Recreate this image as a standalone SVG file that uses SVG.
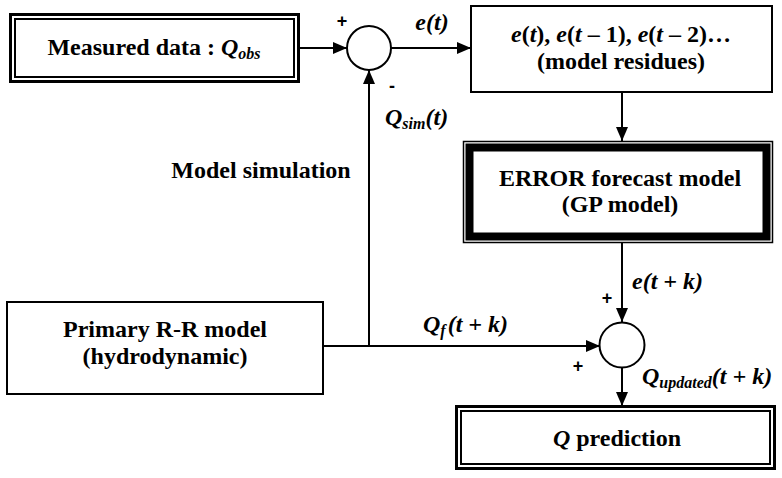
<svg xmlns="http://www.w3.org/2000/svg" width="782" height="478" viewBox="0 0 782 478" font-family="'Liberation Serif','Times New Roman','DejaVu Serif',serif">
<style>
text{font-family:"Liberation Serif","Times New Roman","DejaVu Serif",serif;font-weight:bold;fill:#000;font-size:24px}
.c{text-anchor:middle}
.i{font-style:italic}
.box{fill:#fff;stroke:#000;stroke-width:2}
.ar{fill:none;stroke:#000;stroke-width:2;marker-end:url(#ah)}
.sub{font-size:16px}
.pm{font-family:"Liberation Sans",Arial,sans-serif;font-size:18px}
</style>
<defs>
<marker id="ah" markerUnits="userSpaceOnUse" markerWidth="14" markerHeight="12" refX="14" refY="6" orient="auto">
<path d="M0,0 L14,6 L0,12 Z" fill="#000"/>
</marker>
</defs>
<rect width="782" height="478" fill="#fff"/>
<g id="connectors">
<line class="ar" x1="300" y1="48" x2="347" y2="48"/>
<line class="ar" x1="391" y1="48" x2="471" y2="48"/>
<line class="ar" x1="369" y1="346" x2="369" y2="70"/>
<line class="ar" x1="622" y1="92" x2="622" y2="141"/>
<line class="ar" x1="622" y1="243" x2="622" y2="322"/>
<line class="ar" x1="323" y1="346" x2="600" y2="346"/>
<line class="ar" x1="622" y1="368" x2="622" y2="406"/>
<text x="342" y="27" class="c pm">+</text>
<text x="392" y="92" class="c pm">-</text>
<text x="432" y="30" class="c i">e(t)</text>
<text x="385" y="125"><tspan class="i">Q</tspan><tspan class="i sub" dy="4">sim</tspan><tspan class="i" dy="-4">(t)</tspan></text>
<text x="261" y="178" class="c">Model simulation</text>
<text x="607" y="304" class="c pm">+</text>
<text x="632" y="289" class="i">e(t + k)</text>
<text x="423" y="332"><tspan class="i">Q</tspan><tspan class="i sub" dy="4">f</tspan><tspan class="i" dy="-4" dx="2">(t + k)</tspan></text>
<text x="578" y="372" class="c pm">+</text>
<text x="642" y="384"><tspan class="i">Q</tspan><tspan class="i sub" dy="4">updated</tspan><tspan class="i" dy="-4">(t + k)</tspan></text>
</g>
<g id="measured">
<rect x="10.5" y="14.5" width="288" height="67" fill="#fff" stroke="#000" stroke-width="3"/>
<rect x="15" y="19" width="279" height="58" fill="none" stroke="#000" stroke-width="2"/>
<text x="154" y="55" class="c">Measured data : <tspan class="i">Q</tspan><tspan class="i sub" dy="4">obs</tspan></text>
</g>
<g id="sum1">
<circle cx="369" cy="48" r="22" class="box"/>
</g>
<g id="residues">
<rect x="471" y="6" width="301" height="86" class="box"/>
<text x="621" y="42" class="c"><tspan class="i">e</tspan>(<tspan class="i">t</tspan>), <tspan class="i">e</tspan>(<tspan class="i">t</tspan> – 1), <tspan class="i">e</tspan>(<tspan class="i">t</tspan> – 2)…</text>
<text x="621" y="69" class="c">(model residues)</text>
</g>
<g id="error">
<rect x="463.5" y="141.5" width="309" height="101" fill="#fff" stroke="#000" stroke-width="1.5"/>
<rect x="469.5" y="147.5" width="297" height="89" fill="none" stroke="#000" stroke-width="8"/>
<text x="620" y="186" class="c">ERROR forecast model</text>
<text x="620" y="212" class="c">(GP model)</text>
</g>
<g id="primary">
<rect x="7" y="302" width="316" height="92" class="box"/>
<text x="165" y="337" class="c">Primary R-R model</text>
<text x="165" y="364" class="c">(hydrodynamic)</text>
</g>
<g id="sum2">
<circle cx="622" cy="345" r="22.5" class="box"/>
</g>
<g id="prediction">
<rect x="456.5" y="406.5" width="318" height="62" fill="#fff" stroke="#000" stroke-width="3"/>
<rect x="461" y="411" width="309" height="53" fill="none" stroke="#000" stroke-width="2"/>
<text x="617" y="446" class="c"><tspan class="i">Q</tspan> prediction</text>
</g>
</svg>
